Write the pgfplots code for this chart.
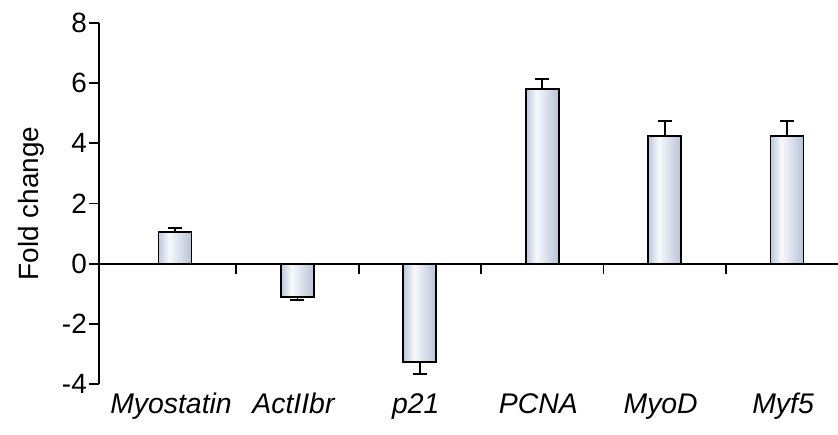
\documentclass[border=0pt]{standalone}
\usepackage{pgfplots}
\pgfplotsset{compat=1.18}
\usepackage{fontspec}
\setmainfont{Liberation Sans}
\setsansfont{Liberation Sans}
\definecolor{barA}{RGB}{188,200,220}
\definecolor{barB}{RGB}{247,249,252}
\definecolor{barC}{RGB}{184,195,215}
\pgfdeclarehorizontalshading{barshade}{100bp}{color(0bp)=(barA); color(25bp)=(barA); color(41bp)=(barB); color(75bp)=(barC); color(100bp)=(barC)}
\pgfplotsset{
  mybar/.style={ybar, bar width=33bp, bar shift=0pt, draw=black, line width=1.8bp, shade, shading=barshade, mark=none},
  myerr/.style={draw=none, mark=none, forget plot, error bars/.cd, y dir=#1, y explicit,
    error bar style={draw=black, line width=1.8bp, solid},
    error mark options={rotate=90, mark size=7bp, line width=1.8bp, draw=black}},
}
\begin{document}
\begin{tikzpicture}
\begin{axis}[
  scale only axis, width=739bp, height=361bp,
  xmin=-0.621, xmax=5.416, ymin=-4, ymax=8,
  axis y line*=left, axis x line*=bottom,
  x axis line style={draw=none},
  y axis line style={line width=1.8bp},
  tick align=outside, major tick length=10bp,
  y tick style={line width=1.8bp, black},
  x tick style={draw=none},
  xtick={0,1,2,3,4,5},
  xticklabels={Myostatin, ActIIbr, p21, PCNA, MyoD, Myf5},
  ytick={-4,-2,0,2,4,6,8},
  minor tick num=0,
  /pgf/number format/assume math mode=true,
  yticklabel style={font=\fontsize{28}{33}\selectfont, inner sep=2bp},
  xticklabel style={font=\fontsize{28.5}{34}\selectfont\itshape, anchor=base, yshift=-19bp, xshift=-4bp},
  ylabel={Fold change},
  every axis y label/.style={at={(axis description cs:0,0.5)}, xshift=-68bp, rotate=90, anchor=center, font=\fontsize{28}{33}\selectfont},
  clip=false,
]
\addplot[mybar] coordinates {(0,1.05)};
\addplot[mybar] coordinates {(1,-1.10)};
\addplot[mybar] coordinates {(2,-3.28)};
\addplot[mybar] coordinates {(3,5.80)};
\addplot[mybar] coordinates {(4,4.25)};
\addplot[mybar] coordinates {(5,4.25)};
\addplot[myerr=plus]
  coordinates {(0,1.05) +- (0,0.14) (3,5.80) +- (0,0.34) (4,4.25) +- (0,0.50) (5,4.25) +- (0,0.50)};
\addplot[myerr=minus]
  coordinates {(1,-1.10) +- (0,0.12) (2,-3.28) +- (0,0.40)};
\draw[line width=1.8bp] (axis cs:-0.621,0) -- (axis cs:5.416,0);
\pgfplotsinvokeforeach{0.5,1.5,2.5,3.5,4.5}{
  \draw[line width=1.8bp] (axis cs:#1,0) -- ([yshift=-10bp]axis cs:#1,0);
}
\end{axis}
\pgfresetboundingbox
\path (-99bp,-51bp) rectangle (739bp,384bp);
\end{tikzpicture}
\end{document}
